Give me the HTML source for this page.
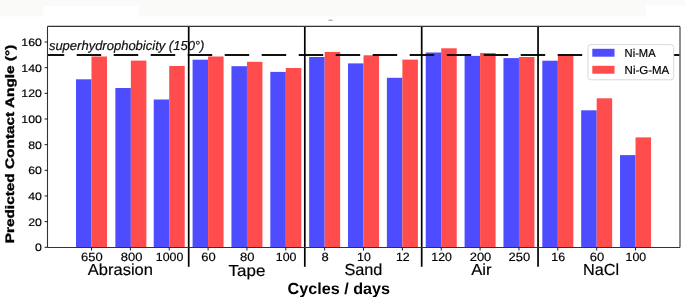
<!DOCTYPE html>
<html><head><meta charset="utf-8"><style>
html,body{margin:0;padding:0;background:#fff;}
body{width:685px;height:297px;overflow:hidden;}
svg{display:block;will-change:transform;}
text{text-rendering:geometricPrecision;font-family:"Liberation Sans",sans-serif;fill:#000;stroke:#000;stroke-width:0.18px;}
.tk{fill:#000;}
.ytk{fill:#000;}
.cat{fill:#000;}
.lab{font-weight:bold;fill:#000;stroke-width:0;}
#ylab{stroke-width:0.35px;}
.leg{fill:#000;}
.sup{font-style:italic;fill:#111;}
</style></head><body>
<svg width="685" height="297" viewBox="0 0 685 297">
<rect x="0" y="0" width="685" height="16.6" fill="#fafaf8"/>
<rect x="43" y="6.1" width="95.3" height="10.5" fill="#fff"/>
<rect x="646" y="5.5" width="39" height="11.1" fill="#fff"/>
<ellipse cx="330.6" cy="20.2" rx="2.6" ry="0.8" fill="#b0b0b0"/>
<defs><clipPath id="ax"><rect x="47.5" y="26.5" width="632.0" height="221.0"/></clipPath></defs>
<rect x="76.00" y="79.30" width="15.50" height="168.20" fill="#4d4dff"/>
<rect x="91.50" y="56.50" width="15.50" height="191.00" fill="#ff4d4d"/>
<rect x="115.36" y="88.00" width="15.50" height="159.50" fill="#4d4dff"/>
<rect x="130.86" y="60.60" width="15.50" height="186.90" fill="#ff4d4d"/>
<rect x="153.72" y="99.50" width="15.50" height="148.00" fill="#4d4dff"/>
<rect x="169.22" y="66.00" width="15.50" height="181.50" fill="#ff4d4d"/>
<rect x="192.58" y="59.70" width="15.50" height="187.80" fill="#4d4dff"/>
<rect x="208.08" y="56.50" width="15.50" height="191.00" fill="#ff4d4d"/>
<rect x="231.44" y="66.20" width="15.50" height="181.30" fill="#4d4dff"/>
<rect x="246.94" y="61.80" width="15.50" height="185.70" fill="#ff4d4d"/>
<rect x="270.30" y="71.90" width="15.50" height="175.60" fill="#4d4dff"/>
<rect x="285.80" y="68.00" width="15.50" height="179.50" fill="#ff4d4d"/>
<rect x="309.16" y="57.00" width="15.50" height="190.50" fill="#4d4dff"/>
<rect x="324.66" y="51.90" width="15.50" height="195.60" fill="#ff4d4d"/>
<rect x="348.02" y="63.40" width="15.50" height="184.10" fill="#4d4dff"/>
<rect x="363.52" y="55.30" width="15.50" height="192.20" fill="#ff4d4d"/>
<rect x="386.88" y="77.80" width="15.50" height="169.70" fill="#4d4dff"/>
<rect x="402.38" y="59.60" width="15.50" height="187.90" fill="#ff4d4d"/>
<rect x="425.74" y="52.50" width="15.50" height="195.00" fill="#4d4dff"/>
<rect x="441.24" y="48.30" width="15.50" height="199.20" fill="#ff4d4d"/>
<rect x="464.60" y="55.90" width="15.50" height="191.60" fill="#4d4dff"/>
<rect x="480.10" y="53.00" width="15.50" height="194.50" fill="#ff4d4d"/>
<rect x="503.46" y="58.10" width="15.50" height="189.40" fill="#4d4dff"/>
<rect x="518.96" y="57.00" width="15.50" height="190.50" fill="#ff4d4d"/>
<rect x="542.32" y="60.70" width="15.50" height="186.80" fill="#4d4dff"/>
<rect x="557.82" y="55.60" width="15.50" height="191.90" fill="#ff4d4d"/>
<rect x="581.18" y="110.30" width="15.50" height="137.20" fill="#4d4dff"/>
<rect x="596.68" y="98.30" width="15.50" height="149.20" fill="#ff4d4d"/>
<rect x="620.04" y="155.10" width="15.50" height="92.40" fill="#4d4dff"/>
<rect x="635.54" y="137.40" width="15.50" height="110.10" fill="#ff4d4d"/>
<g clip-path="url(#ax)"><line x1="39.7" y1="55" x2="690" y2="55" stroke="#111" stroke-width="1.8" stroke-dasharray="24.5 12.5"/></g>
<text id="sup" class="sup" x="48.90" y="50.10" font-size="13">superhydrophobicity (150°)</text>
<line x1="188.70" y1="26.5" x2="188.70" y2="266.8" stroke="#000" stroke-width="1.7"/>
<line x1="304.80" y1="26.5" x2="304.80" y2="266.8" stroke="#000" stroke-width="1.7"/>
<line x1="421.70" y1="26.5" x2="421.70" y2="266.8" stroke="#000" stroke-width="1.7"/>
<line x1="538.05" y1="26.5" x2="538.05" y2="266.8" stroke="#000" stroke-width="1.7"/>
<line x1="47.5" y1="26.4" x2="680" y2="26.4" stroke="#333" stroke-width="1.1"/>
<line x1="680" y1="26.4" x2="680" y2="247.5" stroke="#333" stroke-width="1.1"/>
<line x1="47.5" y1="247.5" x2="680" y2="247.5" stroke="#333" stroke-width="1.1"/>
<line x1="47.5" y1="26.4" x2="47.5" y2="247.5" stroke="#333" stroke-width="1.1"/>
<line x1="44.6" y1="247.30" x2="47.5" y2="247.30" stroke="#000" stroke-width="0.9"/>
<text id="y0" class="ytk" x="42.00" y="251.20" font-size="10.9" text-anchor="end" textLength="6.87" lengthAdjust="spacingAndGlyphs">0</text>
<line x1="44.6" y1="221.64" x2="47.5" y2="221.64" stroke="#000" stroke-width="0.9"/>
<text id="y20" class="ytk" x="42.00" y="225.54" font-size="10.9" text-anchor="end" textLength="13.74" lengthAdjust="spacingAndGlyphs">20</text>
<line x1="44.6" y1="195.98" x2="47.5" y2="195.98" stroke="#000" stroke-width="0.9"/>
<text id="y40" class="ytk" x="42.00" y="199.88" font-size="10.9" text-anchor="end" textLength="13.74" lengthAdjust="spacingAndGlyphs">40</text>
<line x1="44.6" y1="170.32" x2="47.5" y2="170.32" stroke="#000" stroke-width="0.9"/>
<text id="y60" class="ytk" x="42.00" y="174.22" font-size="10.9" text-anchor="end" textLength="13.74" lengthAdjust="spacingAndGlyphs">60</text>
<line x1="44.6" y1="144.66" x2="47.5" y2="144.66" stroke="#000" stroke-width="0.9"/>
<text id="y80" class="ytk" x="42.00" y="148.56" font-size="10.9" text-anchor="end" textLength="13.74" lengthAdjust="spacingAndGlyphs">80</text>
<line x1="44.6" y1="119.00" x2="47.5" y2="119.00" stroke="#000" stroke-width="0.9"/>
<text id="y100" class="ytk" x="42.00" y="122.90" font-size="10.9" text-anchor="end" textLength="20.61" lengthAdjust="spacingAndGlyphs">100</text>
<line x1="44.6" y1="93.34" x2="47.5" y2="93.34" stroke="#000" stroke-width="0.9"/>
<text id="y120" class="ytk" x="42.00" y="97.24" font-size="10.9" text-anchor="end" textLength="20.61" lengthAdjust="spacingAndGlyphs">120</text>
<line x1="44.6" y1="67.68" x2="47.5" y2="67.68" stroke="#000" stroke-width="0.9"/>
<text id="y140" class="ytk" x="42.00" y="71.58" font-size="10.9" text-anchor="end" textLength="20.61" lengthAdjust="spacingAndGlyphs">140</text>
<line x1="44.6" y1="42.02" x2="47.5" y2="42.02" stroke="#000" stroke-width="0.9"/>
<text id="y160" class="ytk" x="42.00" y="45.92" font-size="10.9" text-anchor="end" textLength="20.61" lengthAdjust="spacingAndGlyphs">160</text>
<line x1="91.50" y1="247.5" x2="91.50" y2="250.5" stroke="#000" stroke-width="0.9"/>
<text id="x0" class="tk" x="91.90" y="261.40" font-size="12" text-anchor="middle" textLength="21.62" lengthAdjust="spacingAndGlyphs">650</text>
<line x1="130.36" y1="247.5" x2="130.36" y2="250.5" stroke="#000" stroke-width="0.9"/>
<text id="x1" class="tk" x="131.70" y="261.40" font-size="12" text-anchor="middle" textLength="21.62" lengthAdjust="spacingAndGlyphs">800</text>
<line x1="169.22" y1="247.5" x2="169.22" y2="250.5" stroke="#000" stroke-width="0.9"/>
<text id="x2" class="tk" x="169.62" y="261.40" font-size="12" text-anchor="middle" textLength="27.50" lengthAdjust="spacingAndGlyphs">1000</text>
<line x1="208.08" y1="247.5" x2="208.08" y2="250.5" stroke="#000" stroke-width="0.9"/>
<text id="x3" class="tk" x="208.48" y="261.40" font-size="12" text-anchor="middle" textLength="14.42" lengthAdjust="spacingAndGlyphs">60</text>
<line x1="246.94" y1="247.5" x2="246.94" y2="250.5" stroke="#000" stroke-width="0.9"/>
<text id="x4" class="tk" x="247.34" y="261.40" font-size="12" text-anchor="middle" textLength="14.42" lengthAdjust="spacingAndGlyphs">80</text>
<line x1="285.80" y1="247.5" x2="285.80" y2="250.5" stroke="#000" stroke-width="0.9"/>
<text id="x5" class="tk" x="286.20" y="261.40" font-size="12" text-anchor="middle" textLength="20.62" lengthAdjust="spacingAndGlyphs">100</text>
<line x1="324.66" y1="247.5" x2="324.66" y2="250.5" stroke="#000" stroke-width="0.9"/>
<text id="x6" class="tk" x="325.06" y="261.40" font-size="12" text-anchor="middle" textLength="7.21" lengthAdjust="spacingAndGlyphs">8</text>
<line x1="363.52" y1="247.5" x2="363.52" y2="250.5" stroke="#000" stroke-width="0.9"/>
<text id="x7" class="tk" x="363.92" y="261.40" font-size="12" text-anchor="middle" textLength="13.75" lengthAdjust="spacingAndGlyphs">10</text>
<line x1="402.38" y1="247.5" x2="402.38" y2="250.5" stroke="#000" stroke-width="0.9"/>
<text id="x8" class="tk" x="402.78" y="261.40" font-size="12" text-anchor="middle" textLength="13.75" lengthAdjust="spacingAndGlyphs">12</text>
<line x1="441.24" y1="247.5" x2="441.24" y2="250.5" stroke="#000" stroke-width="0.9"/>
<text id="x9" class="tk" x="441.64" y="261.40" font-size="12" text-anchor="middle" textLength="20.62" lengthAdjust="spacingAndGlyphs">120</text>
<line x1="480.10" y1="247.5" x2="480.10" y2="250.5" stroke="#000" stroke-width="0.9"/>
<text id="x10" class="tk" x="480.50" y="261.40" font-size="12" text-anchor="middle" textLength="21.62" lengthAdjust="spacingAndGlyphs">200</text>
<line x1="518.96" y1="247.5" x2="518.96" y2="250.5" stroke="#000" stroke-width="0.9"/>
<text id="x11" class="tk" x="519.36" y="261.40" font-size="12" text-anchor="middle" textLength="21.62" lengthAdjust="spacingAndGlyphs">250</text>
<line x1="557.82" y1="247.5" x2="557.82" y2="250.5" stroke="#000" stroke-width="0.9"/>
<text id="x12" class="tk" x="558.22" y="261.40" font-size="12" text-anchor="middle" textLength="13.75" lengthAdjust="spacingAndGlyphs">16</text>
<line x1="596.68" y1="247.5" x2="596.68" y2="250.5" stroke="#000" stroke-width="0.9"/>
<text id="x13" class="tk" x="597.08" y="261.40" font-size="12" text-anchor="middle" textLength="14.42" lengthAdjust="spacingAndGlyphs">60</text>
<line x1="635.54" y1="247.5" x2="635.54" y2="250.5" stroke="#000" stroke-width="0.9"/>
<text id="x14" class="tk" x="635.94" y="261.40" font-size="12" text-anchor="middle" textLength="20.62" lengthAdjust="spacingAndGlyphs">100</text>
<text id="c0" class="cat" x="87.80" y="275.30" font-size="16" textLength="65.12" lengthAdjust="spacingAndGlyphs">Abrasion</text>
<text id="c1" class="cat" x="228.60" y="275.50" font-size="16" textLength="36.75" lengthAdjust="spacingAndGlyphs">Tape</text>
<text id="c2" class="cat" x="344.40" y="275.30" font-size="16" textLength="38.04" lengthAdjust="spacingAndGlyphs">Sand</text>
<text id="c3" class="cat" x="471.20" y="274.50" font-size="16" textLength="20.37" lengthAdjust="spacingAndGlyphs">Air</text>
<text id="c4" class="cat" x="583.00" y="274.50" font-size="16" textLength="36.15" lengthAdjust="spacingAndGlyphs">NaCl</text>
<rect x="587.9" y="44.6" width="85.8" height="35.2" rx="3" fill="#fff" stroke="#d8d8d8" stroke-width="1"/>
<rect x="592.3" y="48.8" width="22.2" height="7.9" fill="#4d4dff"/>
<rect x="592.3" y="65.8" width="22.2" height="7.9" fill="#ff4d4d"/>
<text id="l1" class="leg" x="624.60" y="57.00" font-size="11.5" textLength="31.00" lengthAdjust="spacingAndGlyphs">Ni-MA</text>
<text id="l2" class="leg" x="624.60" y="74.00" font-size="11.5" textLength="44.70" lengthAdjust="spacingAndGlyphs">Ni-G-MA</text>
<text id="ylab" class="lab" font-size="12.3" transform="translate(14.10,243.30) rotate(-90)" textLength="198.60" lengthAdjust="spacingAndGlyphs">Predicted Contact Angle (°)</text>
<text id="xlab" class="lab" x="287.50" y="294.10" font-size="16" textLength="102.50" lengthAdjust="spacingAndGlyphs">Cycles / days</text>
</svg>
</body></html>
